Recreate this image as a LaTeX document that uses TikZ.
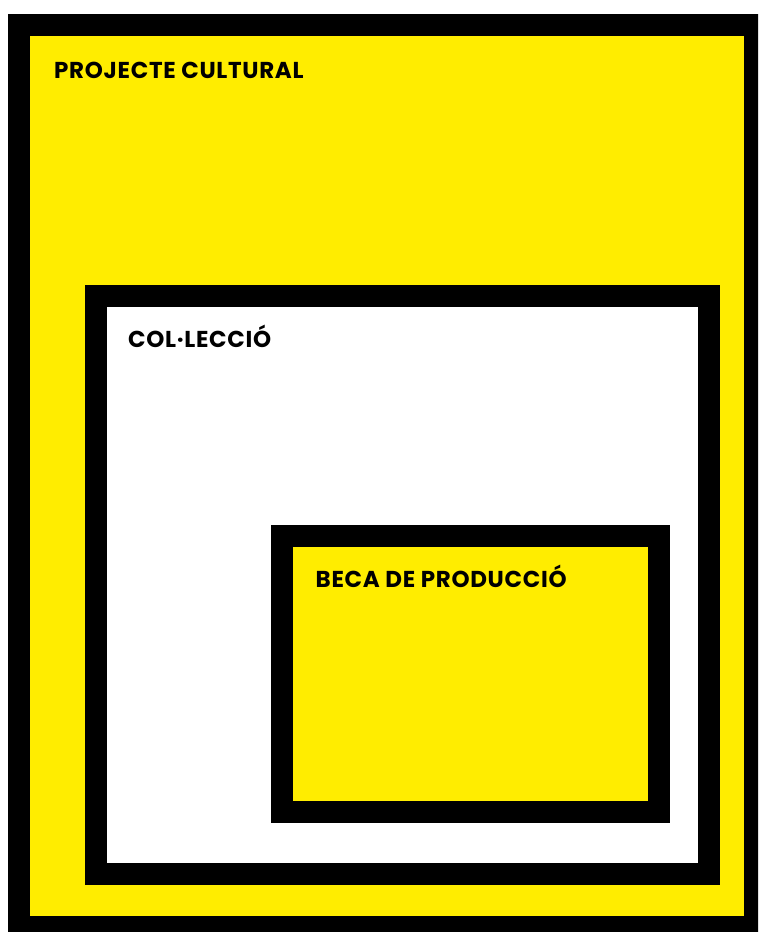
\documentclass[tikz,border=0pt]{standalone}
\usepackage{fontspec}
\setmainfont{Poppins}
\newfontfamily\rotol[LetterSpace=3]{Poppins}
\usepackage{xcolor}
\usetikzlibrary{positioning}
\definecolor{groc}{HTML}{FFED00}

\begin{document}
\begin{tikzpicture}[
  x=1pt, y=-1pt,
  caixa/.style={rectangle, draw=black, line width=22pt, inner sep=0pt},
  etiqueta/.style={anchor=base west, inner sep=0pt, font=\rotol\fontsize{23}{27}\selectfont\bfseries}
]
\useasboundingbox (0,0) rectangle (758,932);
\clip (0,0) rectangle (758,932);

% caixes niuades
\node[caixa, fill=groc, minimum width=736pt, minimum height=902.5pt] (projecte) at (387,475.75) {};
\node[caixa, fill=white, minimum width=613pt, minimum height=578.5pt] (colleccio) at (402.5,584.75) {};
\node[caixa, fill=groc, minimum width=377.5pt, minimum height=276.5pt] (beca) at (470.25,673.75) {};

% etiquetes
\node[etiqueta] (lprojecte) at ([shift={(46pt,-65pt)}]projecte.north west) {PROJECTE CULTURAL};
\node[etiqueta] (lcolleccio) at ([shift={(43pt,-63pt)}]colleccio.north west) {COL·LECCIÓ};
\node[etiqueta] (lbeca) at ([shift={(45pt,-63pt)}]beca.north west) {BECA DE PRODUCCIÓ};

\end{tikzpicture}
\end{document}
